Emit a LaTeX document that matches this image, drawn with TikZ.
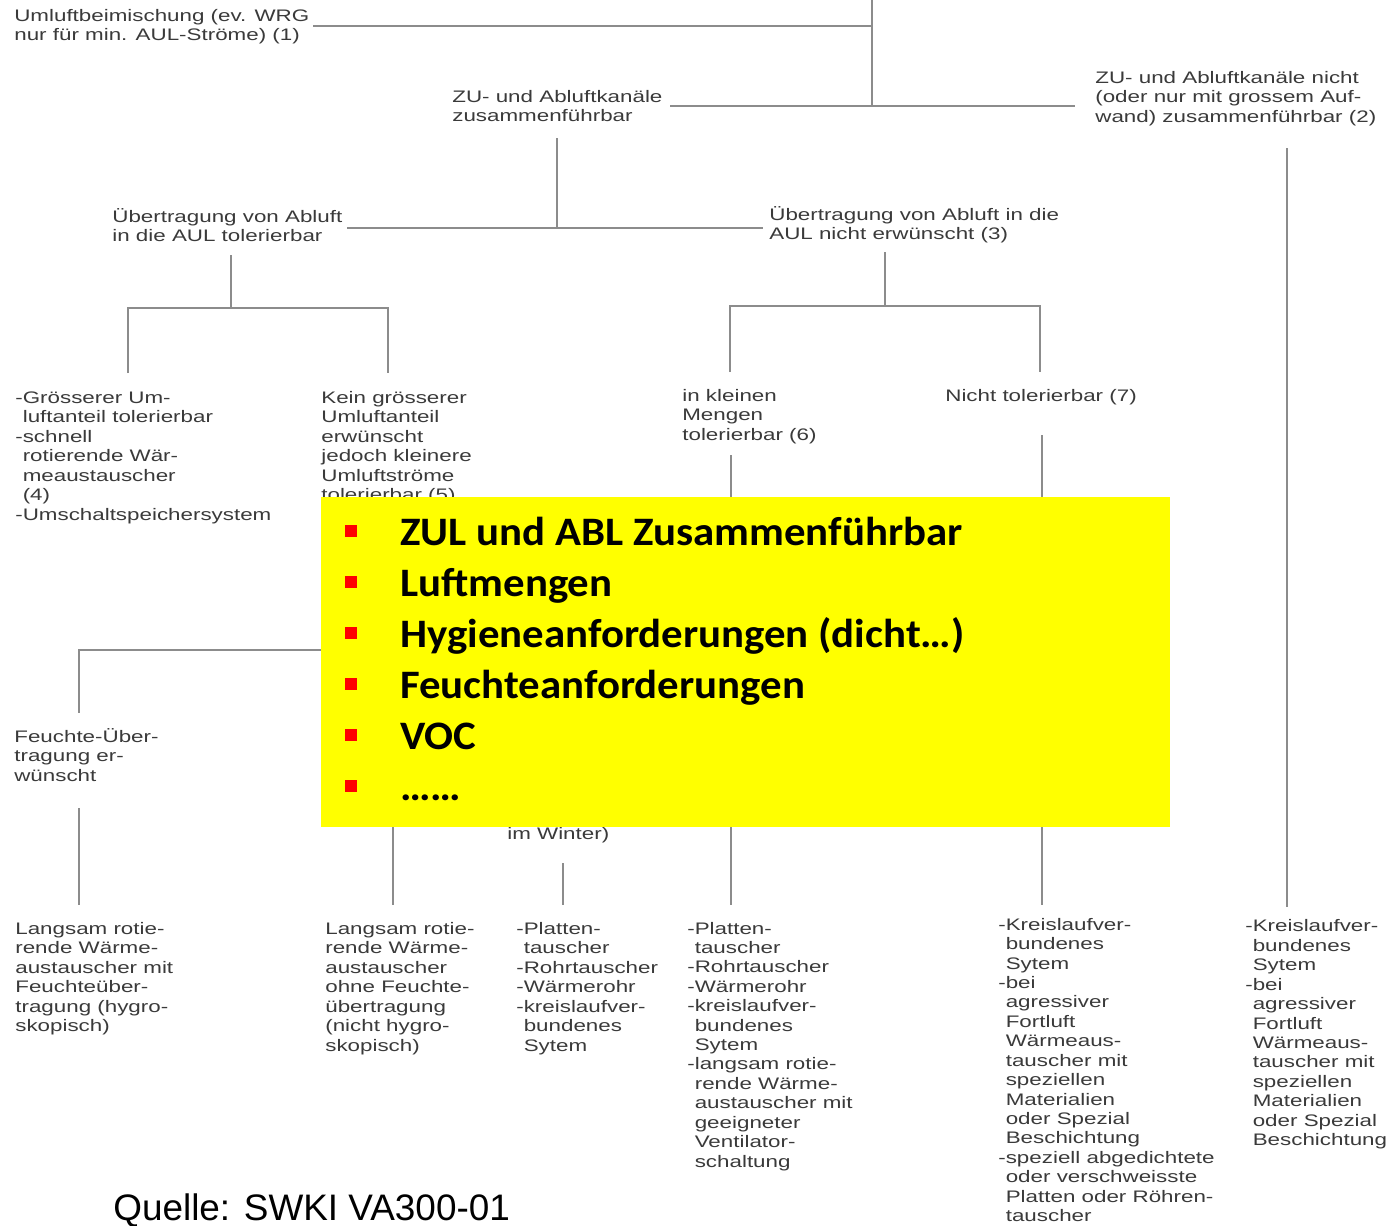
\documentclass[tikz,border=0pt]{standalone}
\usepackage{fontspec}
\setmainfont{Liberation Sans}
\newfontfamily\scanfont[FakeStretch=1.34]{Liberation Sans}
\newfontfamily\slidefont[FakeStretch=1.06]{Carlito}
\usetikzlibrary{calc}

\definecolor{scantext}{HTML}{3A3A3A}
\definecolor{scanline}{HTML}{8C8C8C}
\definecolor{notebg}{HTML}{FFFF00}
\newcommand\dashind{\phantom{-}}

\begin{document}
\begin{tikzpicture}[x=0.02cm, y=-0.02cm,
	box/.style={anchor=base west, inner sep=0pt, align=left, text=scantext,
		font=\scanfont\fontsize{9.5}{11.05}\selectfont},
	branch/.style={draw=scanline, line width=0.7pt},
	item/.style={anchor=base west, inner sep=0pt,
		font=\slidefont\bfseries\fontsize{23}{27}\selectfont},
	]
	% Parameters
	\def\pw{1393}
	\def\ph{1225}
	\def\sq{12}
	\def\itemsep{51}
	\def\ls{19.5} % line step of the scanned text (base anchor = last line)

	% Page
	\fill[white, use as bounding box] (0,0) rectangle (\pw,\ph);

	% Decision texts, top levels
	\node[box] (mix) at (14,{21+1*\ls}) {Umluftbeimischung (ev. WRG\\nur für min. AUL-Ströme) (1)};
	\node[box] (ductyes) at (452,{102+1*\ls}) {ZU- und Abluftkanäle\\zusammenführbar};
	\node[box] (ductno) at (1095,{83+2*\ls}) {ZU- und Abluftkanäle nicht\\(oder nur mit grossem Auf-\\wand) zusammenführbar (2)};
	\node[box] (exhok) at (112,{222+1*\ls}) {Übertragung von Abluft\\in die AUL tolerierbar};
	\node[box] (exhno) at (769,{220+1*\ls}) {Übertragung von Abluft in die\\AUL nicht erwünscht (3)};

	% Third level
	\node[box] (recbig) at (15,{403+6*\ls}) {-Grösserer Um-\\\dashind luftanteil tolerierbar\\-schnell\\\dashind rotierende Wär-\\\dashind meaustauscher\\\dashind (4)\\-Umschaltspeichersystem};
	\node[box] (recsmall) at (321,{403+5*\ls}) {Kein grösserer\\Umluftanteil\\erwünscht\\jedoch kleinere\\Umluftströme\\tolerierbar (5)};
	\node[box] (fewok) at (682,{401+2*\ls}) {in kleinen\\Mengen\\tolerierbar (6)};
	\node[box] (fewno) at (945,401) {Nicht tolerierbar (7)};
	\node[box] (humid) at (14,{742+2*\ls}) {Feuchte-Über-\\tragung er-\\wünscht};
	\node[box] (winter) at (507,839) {im Winter)};

	% Recommended exchangers
	\node[box] (hygro) at (15,{934+5*\ls}) {Langsam rotie-\\rende Wärme-\\austauscher mit\\Feuchteüber-\\tragung (hygro-\\skopisch)};
	\node[box] (nohygro) at (325,{934+6*\ls}) {Langsam rotie-\\rende Wärme-\\austauscher\\ohne Feuchte-\\übertragung\\(nicht hygro-\\skopisch)};
	\node[box] (plate) at (516,{934+6*\ls}) {-Platten-\\\dashind tauscher\\-Rohrtauscher\\-Wärmerohr\\-kreislaufver-\\\dashind bundenes\\\dashind Sytem};
	\node[box] (platefan) at (687,{933+12*\ls}) {-Platten-\\\dashind tauscher\\-Rohrtauscher\\-Wärmerohr\\-kreislaufver-\\\dashind bundenes\\\dashind Sytem\\-langsam rotie-\\\dashind rende Wärme-\\\dashind austauscher mit\\\dashind geeigneter\\\dashind Ventilator-\\\dashind schaltung};
	\node[box] (loopspec) at (998,{929+15*\ls}) {-Kreislaufver-\\\dashind bundenes\\\dashind Sytem\\-bei\\\dashind agressiver\\\dashind Fortluft\\\dashind Wärmeaus-\\\dashind tauscher mit\\\dashind speziellen\\\dashind Materialien\\\dashind oder Spezial\\\dashind Beschichtung\\-speziell abgedichtete\\\dashind oder verschweisste\\\dashind Platten oder Röhren-\\\dashind tauscher};
	\node[box] (loop) at (1245,{931+11*\ls}) {-Kreislaufver-\\\dashind bundenes\\\dashind Sytem\\-bei\\\dashind agressiver\\\dashind Fortluft\\\dashind Wärmeaus-\\\dashind tauscher mit\\\dashind speziellen\\\dashind Materialien\\\dashind oder Spezial\\\dashind Beschichtung};

	% Junction points
	\coordinate (mixE) at (313,26);
	\coordinate (J0) at (872,0);
	\coordinate (J1) at (872,26);
	\coordinate (J2) at (872,106);
	\coordinate (ductL) at (670,106);
	\coordinate (ductR) at (1075,106);
	\coordinate (A0) at (557,138);
	\coordinate (A1) at (557,228);
	\coordinate (AL) at (347,228);
	\coordinate (AR) at (763,228);
	\coordinate (B0) at (231,255);
	\coordinate (B1) at (231,308);
	\coordinate (BL) at (128,308);
	\coordinate (BR) at (388,308);
	\coordinate (BLd) at (128,373);
	\coordinate (BRd) at (388,373);
	\coordinate (C0) at (885,252);
	\coordinate (C1) at (885,306);
	\coordinate (CL) at (730,306);
	\coordinate (CR) at (1040,306);
	\coordinate (CLd) at (730,372);
	\coordinate (CRd) at (1040,372);
	\coordinate (D0) at (1287,148);
	\coordinate (D1) at (1287,907);
	\coordinate (E0) at (731,455);
	\coordinate (E1) at (731,905);
	\coordinate (F0) at (1042,435);
	\coordinate (F1) at (1042,905);
	\coordinate (G0) at (340,650);
	\coordinate (G1) at (79,650);
	\coordinate (G2) at (79,713);
	\coordinate (G3) at (79,808);
	\coordinate (G4) at (79,905);
	\coordinate (H0) at (393,820);
	\coordinate (H1) at (393,905);
	\coordinate (K0) at (563,863);
	\coordinate (K1) at (563,905);

	% Branch lines
	\draw[branch] (mixE) -- (J1);
	\draw[branch] (J0) -- (J2);
	\draw[branch] (ductL) -- (ductR);
	\draw[branch] (A0) -- (A1);
	\draw[branch] (AL) -- (AR);
	\draw[branch] (B0) -- (B1);
	\draw[branch] (BLd) -- (BL) -- (BR) -- (BRd);
	\draw[branch] (C0) -- (C1);
	\draw[branch] (CLd) -- (CL) -- (CR) -- (CRd);
	\draw[branch] (D0) -- (D1);
	\draw[branch] (E0) -- (E1);
	\draw[branch] (F0) -- (F1);
	\draw[branch] (G0) -- (G1) -- (G2);
	\draw[branch] (G3) -- (G4);
	\draw[branch] (H0) -- (H1);
	\draw[branch] (K0) -- (K1);

	% Yellow note over the chart
	\fill[notebg] (321,497) rectangle (1170,827);
	\foreach \t [count=\i] in {ZUL und ABL Zusammenführbar, Luftmengen, Hygieneanforderungen (dicht…), Feuchteanforderungen, VOC, ……} {
		\pgfmathsetmacro\by{545+\itemsep*(\i-1)}
		\fill[red] (345,\by-20) rectangle ++(\sq,\sq);
		\node[item] (item\i) at (400,\by) {\t};
	}

	% Source
	\node[anchor=base west, inner sep=0pt, font=\fontsize{21}{25}\selectfont] (source) at (113,1220) {Quelle: SWKI VA300-01};

\end{tikzpicture}
\end{document}
